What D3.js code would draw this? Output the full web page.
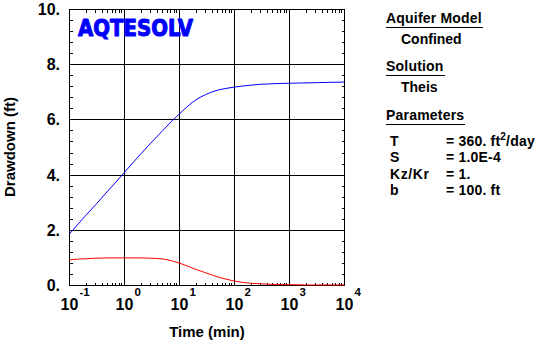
<!DOCTYPE html>
<html><head><meta charset="utf-8">
<script src="https://cdn.jsdelivr.net/npm/d3@7"></script>
<style>
body{margin:0;background:#fff}
svg{display:block}
text{font-family:"Liberation Sans",Arial,sans-serif;font-weight:bold;fill:#000}
</style>
</head><body><svg id="c" width="535" height="341"></svg>
<script>
// ---- data ----
const times      = [0.1,0.15,0.2,0.3,0.5,0.7,1,2,3,5,7,10,15,20,30,50,70,100,200,300,500,1000,2000,5000,10000];
const drawdown   = [1.87,2.27,2.55,2.93,3.43,3.75,4.10,4.78,5.16,5.62,5.93,6.22,6.54,6.73,6.92,7.08,7.14,7.19,7.26,7.29,7.31,7.33,7.34,7.36,7.37];
const derivative = [0.93,0.96,0.97,0.99,1.00,1.00,1.00,1.00,0.99,0.96,0.90,0.81,0.68,0.58,0.46,0.31,0.23,0.16,0.08,0.06,0.04,0.03,0.02,0.02,0.02];
const xTickExponents = [-1,0,1,2,3,4];
const yTicks  = [0,2,4,6,8,10];
const yLabels = ["0.","2.","4.","6.","8.","10."];
const xTitle = "Time (min)";
const yTitle = "Drawdown (ft)";
const logoText = "AQTESOLV";
const headings = ["Aquifer Model","Solution","Parameters"];
const headingValues = ["Confined","Theis"];
const paramNames  = ["T","S","Kz/Kr","b"];
const paramValues = ["= 360. ft","= 1.0E-4","= 1.","= 100. ft"];

// ---- scales ----
const svg = d3.select("#c");
const x = d3.scaleLog().domain([0.1,10000]).range([69.5,344.5]);
const y = d3.scaleLinear().domain([0,10]).range([285.5,9.5]);

const g = svg.append("g");
// grid
g.selectAll("line.gx").data(xTickExponents.slice(1,-1)).join("line")
  .attr("x1",d=>x(Math.pow(10,d))).attr("x2",d=>x(Math.pow(10,d)))
  .attr("y1",y(0)).attr("y2",y(10)).attr("stroke","#000").attr("shape-rendering","crispEdges");
g.selectAll("line.gy").data(yTicks.slice(1,-1)).join("line")
  .attr("y1",d=>y(d)).attr("y2",d=>y(d))
  .attr("x1",x(0.1)).attr("x2",x(10000)).attr("stroke","#000").attr("shape-rendering","crispEdges");

// minor ticks
const minorX = [];
for (let e=-1;e<4;e++) for (let m=2;m<=9;m++) minorX.push(m*Math.pow(10,e));
const minorY = d3.range(0,10.001,0.4).filter(v=>Math.abs(v/2-Math.round(v/2))>1e-6);
const tl = 3;
minorX.forEach(v=>{
  g.append("line").attr("x1",x(v)).attr("x2",x(v)).attr("y1",y(0)).attr("y2",y(0)-tl).attr("stroke","#000").attr("shape-rendering","crispEdges");
  g.append("line").attr("x1",x(v)).attr("x2",x(v)).attr("y1",y(10)).attr("y2",y(10)+tl).attr("stroke","#000").attr("shape-rendering","crispEdges");
});
minorY.forEach(v=>{
  g.append("line").attr("y1",y(v)).attr("y2",y(v)).attr("x1",x(0.1)).attr("x2",x(0.1)+tl).attr("stroke","#000").attr("shape-rendering","crispEdges");
  g.append("line").attr("y1",y(v)).attr("y2",y(v)).attr("x1",x(10000)).attr("x2",x(10000)-tl).attr("stroke","#000").attr("shape-rendering","crispEdges");
});

// frame
g.append("rect").attr("x",x(0.1)).attr("y",y(10)).attr("width",x(10000)-x(0.1)).attr("height",y(0)-y(10))
  .attr("fill","none").attr("stroke","#000").attr("shape-rendering","crispEdges");

// curves
const line = (vals)=>d3.line().curve(d3.curveMonotoneX).x((d,i)=>x(times[i])).y(d=>y(d))(vals);
g.append("path").attr("d",line(drawdown)).attr("fill","none").attr("stroke","#0000ff").attr("stroke-width",1);
g.append("path").attr("d",line(derivative)).attr("fill","none").attr("stroke","#ff0000").attr("stroke-width",1);

// logo
g.append("text").attr("x",78).attr("y",35.5).text(logoText)
  .style("font-family","'DejaVu Sans',sans-serif").style("font-weight","bold").style("font-size","23px")
  .style("fill","#0000ff").style("stroke","#0000ff").style("stroke-width","1.1px").style("stroke-linejoin","round")
  .attr("textLength",115).attr("lengthAdjust","spacingAndGlyphs");

// y tick labels
g.selectAll("text.yl").data(yTicks).join("text")
  .attr("x",60).attr("y",d=>y(d)+5.5).attr("text-anchor","end").style("font-size","16px")
  .text((d,i)=>yLabels[i]);

// x tick labels
xTickExponents.forEach(e=>{
  const cx = x(Math.pow(10,e));
  const t = g.append("text").attr("x",cx).attr("y",310).attr("text-anchor","middle").style("font-size","16px").text("10");
  const w = t.node().getComputedTextLength();
  g.append("text").attr("x",cx+w/2+1).attr("y",295.5).style("font-size","11.5px").text(e);
});

// axis titles
g.append("text").attr("x",207).attr("y",337).attr("text-anchor","middle").style("font-size","15px").text(xTitle);
g.append("text").attr("transform","translate(15,147) rotate(-90)").attr("text-anchor","middle").style("font-size","15px").text(yTitle);

// right panel
const fs = "14px";
function heading(txt, yb){
  const t = g.append("text").attr("x",386).attr("y",yb).style("font-size",fs).style("letter-spacing","0.2px").text(txt);
  const w = t.node().getComputedTextLength();
  g.append("line").attr("x1",386).attr("x2",386+w+1).attr("y1",yb+4.5).attr("y2",yb+4.5).attr("stroke","#000").attr("shape-rendering","crispEdges");
}
heading(headings[0],23);
g.append("text").attr("x",401).attr("y",44).style("font-size",fs).text(headingValues[0]);
heading(headings[1],70.5);
g.append("text").attr("x",401).attr("y",92).style("font-size",fs).text(headingValues[1]);
heading(headings[2],120);
const pY = [145.5,162,178.5,195];
paramNames.forEach((n,i)=>{
  g.append("text").attr("x",390).attr("y",pY[i]).style("font-size",fs).style("letter-spacing","0.6px").text(n);
});
const eqX = 446;
paramValues.forEach((v,i)=>{
  const t = g.append("text").attr("x",eqX).attr("y",pY[i]).style("font-size",fs).style("letter-spacing","0.2px").text(v);
  if (i===0){
    t.append("tspan").attr("dy",-6).style("font-size","10px").text("2");
    t.append("tspan").attr("dy",6).text("/day");
  }
});
</script></body></html>
